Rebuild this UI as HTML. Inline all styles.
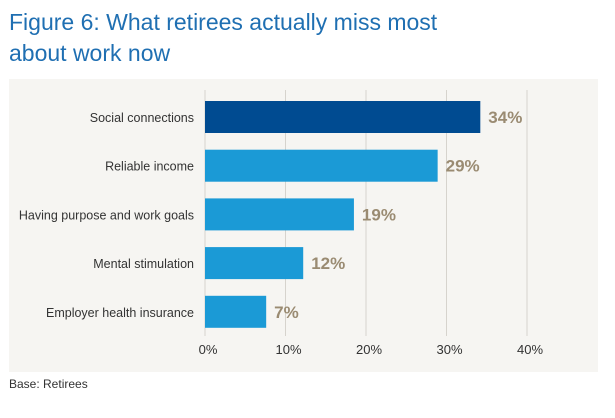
<!DOCTYPE html>
<html><head><meta charset="utf-8"><style>
body{margin:0;width:615px;height:418px;background:#fff;font-family:"Liberation Sans",sans-serif;overflow:hidden;position:relative}
#title{position:absolute;left:9px;top:7px;font-size:23px;line-height:31px;color:#1f6fb2}
#base{position:absolute;left:9px;top:377px;font-size:12px;color:#333}
svg{position:absolute;left:0;top:0}
</style></head><body>
<div id="title">Figure 6: What retirees actually miss most<br>about work now</div>
<svg id="c" width="615" height="418"></svg>
<div id="base">Base: Retirees</div>
<script>
const categories=["Social connections","Reliable income","Having purpose and work goals","Mental stimulation","Employer health insurance"];
const values=[34.2,28.9,18.5,12.2,7.6];
const valueLabels=["34%","29%","19%","12%","7%"];
const ticks=[0,10,20,30,40];
const tickLabels=["0%","10%","20%","30%","40%"];
const NS="http://www.w3.org/2000/svg";
const svg=document.getElementById('c');
function x(v){return 205+v*8.05;}
function y(i){return 101+i*48.7;}
function mk(t,a,p){const e=document.createElementNS(NS,t);for(const k in a)e.setAttribute(k,a[k]);(p||svg).appendChild(e);return e;}
const bg=mk('rect',{x:9,y:79,width:589,height:293,fill:'#f6f5f2'});


ticks.forEach((t,i)=>{
 const l=mk('line',{x1:x(t),x2:x(t),y1:90,y2:336,stroke:'#d6d3cd','stroke-width':1});
 
 
 const tx=mk('text',{x:x(t)+3,y:354,'text-anchor':'middle','font-size':13,fill:'#333'});
 tx.textContent=tickLabels[i];
 
 
});
categories.forEach((c,i)=>{
 const r=mk('rect',{x:x(0),y:y(i),width:x(values[i])-x(0),height:32,fill:i==0?'#004b91':'#1b9ad6'});
 
 
 const lb=mk('text',{x:194,y:y(i)+21,'text-anchor':'end','font-size':12.5,fill:'#333'});
 lb.textContent=c;
 
 
 const v=mk('text',{x:x(values[i])+8,y:y(i)+22,'font-size':17,'font-weight':'bold',fill:'#9a8b72'});
 v.textContent=valueLabels[i];
 
 
});
</script>
</body></html>
